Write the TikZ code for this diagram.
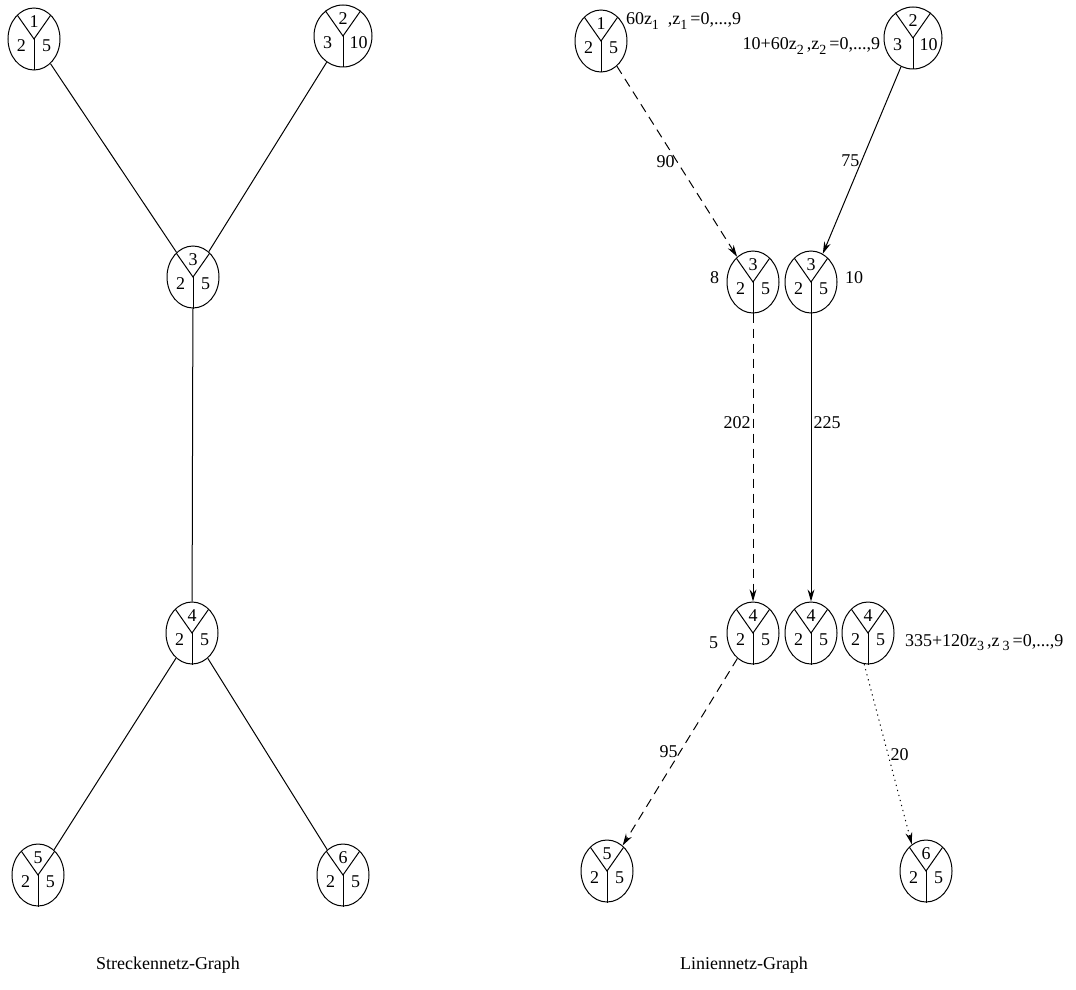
\documentclass[tikz,border=0pt]{standalone}
\usepackage{fontspec}
\setmainfont{Liberation Serif}
\usetikzlibrary{calc,arrows.meta,positioning,shapes.geometric}

% lowered index as in the original figure
\newcommand{\tief}[1]{\raisebox{-0.5ex}{\fontsize{7}{7}\selectfont #1}}

\begin{document}
\begin{tikzpicture}[x=0.5pt, y=-0.5pt, line width=0.5pt,
    every node/.style={font=\fontsize{9}{10}\selectfont},
    knoten/.style={draw, ellipse, minimum width=26pt, minimum height=31pt, inner sep=0pt},
    knotenw/.style={knoten, minimum width=29pt},
    lbl/.style={inner sep=1pt},
    pfeil/.style={-{Stealth[length=6pt, width=3.4pt]}},
    gestrichelt/.style={pfeil, dash pattern=on 4.5pt off 3pt},
    gepunktet/.style={pfeil, dash pattern=on 0.6pt off 2pt}]

\useasboundingbox (0,0) rectangle (1076,990);

% Streckennetz-Graph
\node[knoten]  (L1) at (34,39) {};
\node[knotenw] (L2) at (343,36) {};
\node[knoten]  (L3) at (193,277) {};
\node[knoten]  (L4) at (192,633) {};
\node[knoten]  (L5) at (38,875) {};
\node[knoten]  (L6) at (343,875) {};

\draw (L1) -- (L3);
\draw (L2) -- (L3);
\draw (L3) -- (L4);
\draw (L4) -- (L5);
\draw (L4) -- (L6);

\node (titelS) at (168,965) {Streckennetz-Graph};

% Liniennetz-Graph
\node[knoten]  (R1)  at (601,41) {};
\node[knotenw] (R2)  at (913,38) {};
\node[knoten]  (R3a) at (753,282) {};
\node[knoten]  (R3b) at (811,282) {};
\node[knoten]  (R4a) at (753,633) {};
\node[knoten]  (R4b) at (811,633) {};
\node[knoten]  (R4c) at (868,633) {};
\node[knoten]  (R5)  at (607,871) {};
\node[knoten]  (R6)  at (926,871) {};

\draw[gestrichelt] (R1) -- node[lbl, left] (k90) {90} (R3a);
\draw[pfeil] (R2) -- node[lbl, left] (k75) {75} (R3b);
\draw[gestrichelt] (R3a) -- node[lbl, left, pos=0.38] (k202) {202} (R4a);
\draw[pfeil] (R3b) -- node[lbl, right, pos=0.38] (k225) {225} (R4b);
\draw[gestrichelt] (R4a) -- node[lbl, left] (k95) {95} (R5);
\draw[gepunktet] (R4c.263) -- node[lbl, right] (k20) {20} (R6.118);

% Zeiten an den Knoten
\node[lbl, anchor=west] (t1) at ([shift={(-2pt,10pt)}]R1.east) {60z\tief{1}\ \ ,z\tief{1}\,=0,...,9};
\node[lbl, left=0.5pt of R2, yshift=-4pt] (t2) {10+60z\tief{2}\,,z\tief{2}\,=0,...,9};
\node[lbl, left=2.5pt of R3a, yshift=2pt] (t3a) {8};
\node[lbl, right=2.5pt of R3b, yshift=2pt] (t3b) {10};
\node[lbl, left=3pt of R4a, yshift=-5pt] (t4a) {5};
\node[lbl, right=4pt of R4c, yshift=-5pt] (t4c) {335+120z\tief{3}\,,z\,\tief{3}\,=0,...,9};

\node (titelL) at (744,965) {Liniennetz-Graph};

% Y-Teilung und Beschriftung der Knoten
\foreach \n/\t/\l/\r/\dx in {L1/1/2/5/12.5, L2/2/3/10/15.5, L3/3/2/5/12.5, L4/4/2/5/12.5,
    L5/5/2/5/12.5, L6/6/2/5/12.5, R1/1/2/5/12.5, R2/2/3/10/15.5, R3a/3/2/5/12.5,
    R3b/3/2/5/12.5, R4a/4/2/5/12.5, R4b/4/2/5/12.5, R4c/4/2/5/12.5, R5/5/2/5/12.5,
    R6/6/2/5/12.5} {
    \draw (\n.125) -- (\n.center) -- (\n.55);
    \draw (\n.center) -- (\n.south);
    \node[inner sep=0pt] (\n-o) at ($(\n)+(0,-17)$) {\t};
    \node[inner sep=0pt] (\n-l) at ($(\n)+(-\dx,7)$) {\l};
    \node[inner sep=0pt] (\n-r) at ($(\n)+(\dx,7)$) {\r};
}

\end{tikzpicture}
\end{document}
